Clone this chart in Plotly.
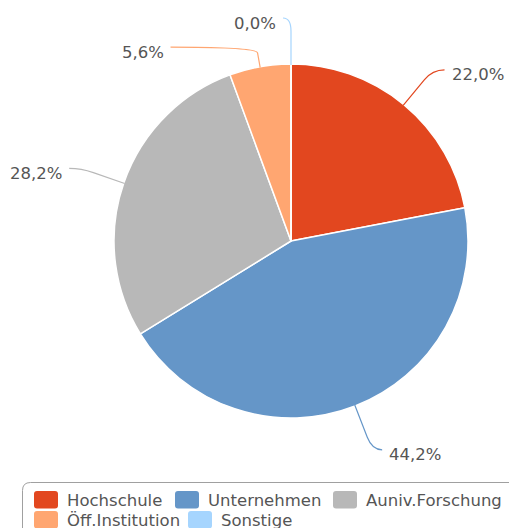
import math
import plotly.graph_objects as go

# ---- data ----
categories = ["Hochschule", "Unternehmen", "Auniv.Forschung", "Öff.Institution", "Sonstige"]
values = [22.0, 44.2, 28.2, 5.6, 0.0]
value_labels = ["22,0%", "44,2%", "28,2%", "5,6%", "0,0%"]

# ---- style ----
colors = ["#E2471F", "#6596C8", "#B8B8B8", "#FFA671", "#A6D5FE"]
W, H = 509, 528
CX, CY, R = 291, 241, 176
TEXT = "#555555"
FONT = "DejaVu Sans"
# label layout per slice: (knee radius, horizontal run)
label_layout = [(222, 12), (224, 10), (222, 12), (197, 86), (223, 8)]


def px(x):
    return x / W


def py(y):
    return 1 - y / H


fig = go.Figure()
fig.add_trace(go.Pie(
    labels=categories, values=values, sort=False, direction="clockwise",
    rotation=0, textinfo="none", hoverinfo="label+percent",
    marker=dict(colors=colors, line=dict(color="white", width=1.5)),
    domain=dict(x=[px(CX - R - 1), px(CX + R + 1)], y=[py(CY + R + 1), py(CY - R - 1)]),
    showlegend=False,
))

shapes = []
annotations = []
total = sum(values)
cum = 0.0
for i, v in enumerate(values):
    mid = (cum + v / 2) / total * 2 * math.pi
    cum += v
    s, c = math.sin(mid), math.cos(mid)
    side = 1 if s > 1e-6 else -1
    rk, hl = label_layout[i]
    p0 = (CX + R * s, CY - R * c)
    k = (CX + rk * s, CY - rk * c)
    e = (k[0] + side * hl, k[1])
    p1 = (p0[0] + 0.72 * (k[0] - p0[0]), p0[1] + 0.72 * (k[1] - p0[1]))
    path = (f"M {px(p0[0])},{py(p0[1])} L {px(p1[0])},{py(p1[1])} "
            f"Q {px(k[0])},{py(k[1])} {px(e[0])},{py(e[1])}")
    shapes.append(dict(type="path", path=path, xref="paper", yref="paper",
                       line=dict(color=colors[i], width=1.2)))
    annotations.append(dict(
        x=px(e[0] + side * 5), y=py(e[1] + 5), xref="paper", yref="paper",
        text=value_labels[i], showarrow=False,
        xanchor="left" if side > 0 else "right", yanchor="middle",
        font=dict(family=FONT, size=16.5, color=TEXT)))

# ---- custom legend ----
def rrect(x0, y0, x1, y1, r):
    return (f"M {px(x0 + r)},{py(y0)} L {px(x1 - r)},{py(y0)} "
            f"Q {px(x1)},{py(y0)} {px(x1)},{py(y0 + r)} L {px(x1)},{py(y1 - r)} "
            f"Q {px(x1)},{py(y1)} {px(x1 - r)},{py(y1)} L {px(x0 + r)},{py(y1)} "
            f"Q {px(x0)},{py(y1)} {px(x0)},{py(y1 - r)} L {px(x0)},{py(y0 + r)} "
            f"Q {px(x0)},{py(y0)} {px(x0 + r)},{py(y0)} Z")

shapes.append(dict(type="path", path=rrect(22.5, 482.5, 540, 560, 8),
                   xref="paper", yref="paper",
                   line=dict(color="#A0A0A0", width=1), fillcolor="rgba(0,0,0,0)"))

legend_pos = [(34, 491), (175, 491), (333, 491), (34, 511), (188, 511)]
for i, name in enumerate(categories):
    x0, y0 = legend_pos[i]
    shapes.append(dict(type="path", path=rrect(x0, y0, x0 + 24, y0 + 17.5, 3),
                       xref="paper", yref="paper", line=dict(width=0),
                       fillcolor=colors[i]))
    annotations.append(dict(
        x=px(x0 + 31), y=py(y0 + 9.5), xref="paper", yref="paper",
        text=name, showarrow=False, xanchor="left", yanchor="middle",
        font=dict(family=FONT, size=16.5, color=TEXT)))

fig.update_layout(
    width=W, height=H, margin=dict(l=0, r=0, t=0, b=0),
    paper_bgcolor="white", plot_bgcolor="white",
    shapes=shapes, annotations=annotations, showlegend=False,
)
fig.write_html("out.html")
